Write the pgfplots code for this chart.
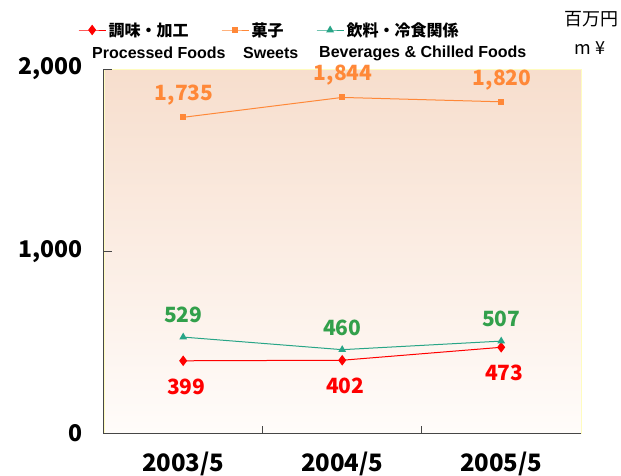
\documentclass[border=0pt]{standalone}
\usepackage{fontspec}
\usepackage{pgfplots}
\pgfplotsset{compat=1.18}
\setmainfont{Noto Sans CJK JP}
\newfontfamily\lat{Liberation Sans}

\definecolor{cRed}{RGB}{255,0,0}
\definecolor{cOrange}{RGB}{255,136,56}
\definecolor{cTeal}{RGB}{40,165,135}
\definecolor{cGreen}{RGB}{50,160,75}
\definecolor{bgTop}{RGB}{247,222,205}
\definecolor{bgBot}{RGB}{255,252,250}
\definecolor{axGray}{RGB}{70,70,70}

\begin{document}
\begin{tikzpicture}[x=1pt,y=1pt]
\path[use as bounding box] (0,0) rectangle (621,475);
\begin{axis}[
    at={(103.7pt,41.5pt)}, anchor=south west,
    scale only axis,
    width=477pt, height=364.5pt,
    xmin=-0.5, xmax=2.5,
    ymin=0, ymax=2000,
    axis x line*=bottom, axis y line*=left,
    axis line style={axGray, line width=1.4pt},
    axis background/.style={top color=bgTop, bottom color=bgBot, draw=yellow!25},
    xtick={0.5,1.5},
    xticklabels={},
    extra x ticks={0,1,2},
    extra x tick labels={2003/5, 2004/5, 2005/5},
    extra x tick style={major tick length=0pt},
    ytick={0,1000,2000},
    major tick length=8pt,
    tick align=inside,
    tick style={axGray, line width=1pt},
    /pgf/number format/.cd, 1000 sep={,}, assume math mode=true, /pgfplots/.cd,
    yticklabel style={font=\fontsize{23}{23}\selectfont\bfseries, inner sep=0pt, xshift=-21pt},
    xticklabel style={font=\fontsize{24}{24}\selectfont\bfseries, inner sep=0pt, yshift=-18pt},
    legend columns=3,
    legend style={draw=none, fill=none, inner sep=0pt,
        at={(axis description cs:-0.054,1.107)}, anchor=west,
        font=\fontsize{16}{16}\selectfont\bfseries,
        nodes={inner sep=2.5pt},
        /tikz/every even column/.append style={column sep=30pt}},
    legend image code/.code={
        \draw[mark repeat=2, mark phase=2] plot coordinates {(0pt,0pt) (13.5pt,0pt) (27pt,0pt)};},
    nodes near coords={\pgfmathprintnumber{\pgfplotspointmeta}},
    every node near coord/.append style={font=\fontsize{21}{21}\selectfont\bfseries, anchor=center, inner sep=0pt},
]
\addplot[cRed, line width=1pt, mark=diamond*, mark size=4.5pt, mark options={solid, fill=cRed, draw=cRed},
    every node near coord/.append style={text=cRed, yshift=-26pt, xshift=3pt}]
    coordinates {(0,399) (1,402) (2,473)};
\addlegendentry{調味・加工}
\addplot[cOrange, line width=1pt, mark=square*, mark size=2.5pt, mark options={solid, fill=cOrange},
    every node near coord/.append style={text=cOrange, yshift=22pt, xshift=1pt}]
    coordinates {(0,1735) (1,1844) (2,1820)};
\addlegendentry{菓子}
\addplot[cTeal, line width=1pt, mark=triangle*, mark size=3.5pt, mark options={solid, fill=cTeal},
    every node near coord/.append style={text=cGreen, yshift=22pt}]
    coordinates {(0,529) (1,460) (2,507)};
\addlegendentry{飲料・冷食関係}
\end{axis}
\begin{scope}[font=\lat\fontsize{16}{16}\selectfont\bfseries]
\node[anchor=west, inner sep=0pt] at (92,422) {Processed Foods};
\node[anchor=west, inner sep=0pt] at (243,422) {Sweets};
\node[anchor=west, inner sep=0pt] at (319,422) {Beverages \& Chilled Foods};
\end{scope}
\node[anchor=center, inner sep=0pt, font=\fontsize{18}{18}\selectfont] at (591,456) {百万円};
\node[anchor=center, inner sep=0pt, font=\fontsize{18}{18}\selectfont] at (590,427) {m ¥};
\end{tikzpicture}
\end{document}
